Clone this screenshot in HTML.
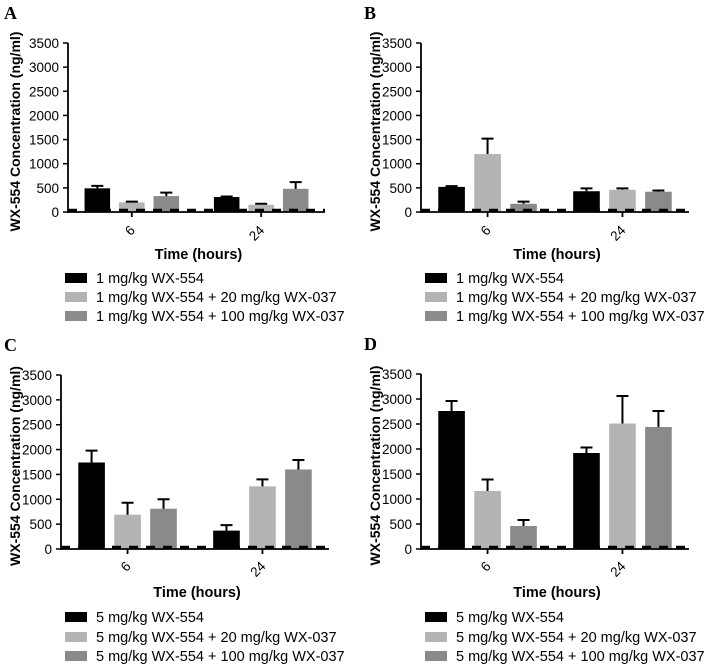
<!DOCTYPE html>
<html><head><meta charset="utf-8"><style>
body{margin:0;background:#fff;width:709px;height:666px;overflow:hidden}
svg{display:block;font-family:"Liberation Sans",Arial,sans-serif}
</style></head><body>
<svg id="fig" width="709" height="666"></svg>
<script>
const categories = ["6", "24"];
const series1mg = ["1 mg/kg WX-554", "1 mg/kg WX-554 + 20 mg/kg WX-037", "1 mg/kg WX-554 + 100 mg/kg WX-037"];
const series5mg = ["5 mg/kg WX-554", "5 mg/kg WX-554 + 20 mg/kg WX-037", "5 mg/kg WX-554 + 100 mg/kg WX-037"];
const yTicks = [0, 500, 1000, 1500, 2000, 2500, 3000, 3500];
// values per series: [6h, 24h]
const aMean = [[490, 310], [200, 150], [330, 480]];
const aErr  = [[50, 10], [15, 20], [70, 140]];
const bMean = [[520, 430], [1200, 460], [170, 420]];
const bErr  = [[15, 60], [320, 30], [45, 25]];
const cMean = [[1740, 370], [690, 1260], [810, 1600]];
const cErr  = [[240, 110], [240, 140], [190, 190]];
const dMean = [[2760, 1920], [1160, 2510], [460, 2440]];
const dErr  = [[200, 110], [230, 550], [120, 320]];
const colors = ["#000000", "#b4b4b4", "#8a8a8a"];

const NS = "http://www.w3.org/2000/svg";
const svg = document.getElementById("fig");
function mk(tag, attrs, parent, text) {
  const e = document.createElementNS(NS, tag);
  for (const k in attrs) e.setAttribute(k, attrs[k]);
  if (text !== undefined) e.textContent = text;
  (parent || svg).appendChild(e);
  return e;
}

const panels = [
  {id:"a", letter:"A", ox:0, x0:68, x1:325, yTop:43, yBot:212, mean:aMean, err:aErr, names:series1mg, tickY:231, titleY:259, legY:[278,297,316], legX:65},
  {id:"b", letter:"B", ox:360, x0:421, x1:689, yTop:43, yBot:212, mean:bMean, err:bErr, names:series1mg, tickY:231, titleY:259, legY:[278,297,316], legX:425},
  {id:"c", letter:"C", ox:0, x0:61, x1:329, yTop:375, yBot:549, mean:cMean, err:cErr, names:series5mg, tickY:567, titleY:597, legY:[617,637,656], legX:65},
  {id:"d", letter:"D", ox:360, x0:421, x1:689, yTop:374, yBot:549, mean:dMean, err:dErr, names:series5mg, tickY:567, titleY:597, legY:[617,637,656], legX:425}
];
const slotPos = [[0.85, 1.85, 2.85], [4.6, 5.6, 6.6]];

panels.forEach(p => {
  const g = mk("g", {});
  
  
  const yScale = v => p.yBot - (v / 3500) * (p.yBot - p.yTop);
  const u = (p.x1 - p.x0) / 7.45;
  const xScale = (gi, si) => p.x0 + slotPos[gi][si] * u;
  const bw = u * 0.74;

  const lt = mk("text", {x:p.ox + 4, y:p.yTop - 24, "font-family":"Liberation Serif, serif", "font-weight":"bold", "font-size":"18"}, g, p.letter);
  
  

  yTicks.forEach(t => {
    const y = yScale(t);
    mk("line", {x1:p.x0 - 5, x2:p.x0, y1:y, y2:y, stroke:"#000", "stroke-width":1.5}, g);
    const tl = mk("text", {x:p.x0 - 9, y:y + 5, "text-anchor":"end", "font-size":"13.5"}, g, String(t));
    
    
  });
  const yt = mk("text", {x:0, y:0, transform:`translate(${p.ox + 20},${(p.yTop + p.yBot) / 2 + 4}) rotate(-90)`, "text-anchor":"middle", "font-size":"14", "font-weight":"bold"}, g, "WX-554 Concentration (ng/ml)");
  
  

  p.mean.forEach((ser, si) => {
    ser.forEach((v, gi) => {
      const cx = xScale(gi, si);
      const top = yScale(v);
      const r = mk("rect", {x:cx - bw / 2, y:top, width:bw, height:p.yBot - top, fill:colors[si]}, g);
      
      
      const et = yScale(v + p.err[si][gi]);
      const eb = mk("path", {d:`M${cx},${top} V${et} M${cx - 6},${et} H${cx + 6}`, stroke:colors[0], "stroke-width":2, fill:"none"}, g);
      
      
    });
  });

  mk("line", {x1:p.x0, x2:p.x1, y1:p.yBot - 1.5, y2:p.yBot - 1.5, stroke:"#000", "stroke-width":3.5, "stroke-dasharray":"9,8"}, g);
  mk("line", {x1:p.x0, x2:p.x0, y1:p.yTop, y2:p.yBot + 1, stroke:"#000", "stroke-width":1.8}, g);
  mk("line", {x1:p.x0, x2:p.x1, y1:p.yBot, y2:p.yBot, stroke:"#000", "stroke-width":1.8}, g);

  categories.forEach((c, gi) => {
    const cx = xScale(gi, 1);
    mk("line", {x1:cx, x2:cx, y1:p.yBot, y2:p.yBot + 5, stroke:"#000", "stroke-width":1.8}, g);
    const tx = mk("text", {x:0, y:0, transform:`translate(${cx + 4},${p.tickY}) rotate(-45)`, "text-anchor":"end", "font-size":"13.5"}, g, c);
    
    
  });
  const xt = mk("text", {x:(p.x0 + p.x1) / 2 + 2, y:p.titleY, "text-anchor":"middle", "font-size":"14.5", "font-weight":"bold"}, g, "Time (hours)");
  
  

  p.names.forEach((n, si) => {
    const le = mk("g", {}, g);
    
    
    mk("rect", {x:p.legX, y:p.legY[si] - 5, width:22, height:10, fill:colors[si]}, le);
    mk("text", {x:p.legX + 31, y:p.legY[si] + 5, "font-size":"14.5"}, le, n);
  });
});
</script>
</body></html>
